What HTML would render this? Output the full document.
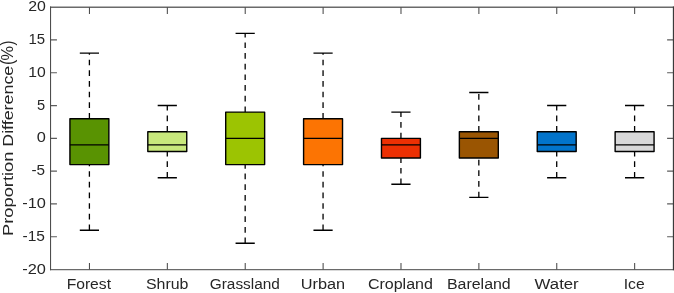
<!DOCTYPE html>
<html lang="en"><head><meta charset="utf-8"><title>Proportion Difference boxplot</title>
<style>html,body{margin:0;padding:0;background:#fff}body{width:674px;height:293px;overflow:hidden}svg{display:block}</style>
</head><body>
<svg width="674" height="293" viewBox="0 0 674 293" font-family="'Liberation Sans', sans-serif" fill="#262626">
<rect width="674" height="293" fill="#fff"/>
<g fill="none">
<path d="M50.02 7.24H674.02M50.02 269.68H674.02" stroke="#6a6a6a" stroke-width="1.35"/>
<path d="M50.55 236.76h6.4M673.5 236.76h-6.4M50.55 203.96h6.4M673.5 203.96h-6.4M50.55 171.16h6.4M673.5 171.16h-6.4M50.55 138.36h6.4M673.5 138.36h-6.4M50.55 105.56h6.4M673.5 105.56h-6.4M50.55 72.76h6.4M673.5 72.76h-6.4M50.55 39.96h6.4M673.5 39.96h-6.4" stroke="#5c5c5c" stroke-width="1.2"/>
<path d="M50.55 6.6V270.3" stroke="#4a4a4a" stroke-width="1.05"/>
<path d="M673.5 6.6V270.3" stroke="#3a3a3a" stroke-width="1.3"/>
<path d="M89.45 269.6V263M89.45 7.3V13.9M167.34 269.6V263M167.34 7.3V13.9M245.22 269.6V263M245.22 7.3V13.9M323.11 269.6V263M323.11 7.3V13.9M400.99 269.6V263M400.99 7.3V13.9M478.88 269.6V263M478.88 7.3V13.9M556.76 269.6V263M556.76 7.3V13.9M634.65 269.6V263M634.65 7.3V13.9" stroke="#4a4a4a" stroke-width="1.05"/>
</g>
<g stroke="#000" fill="none">
<path d="M89.40 230.20V164.60M89.40 118.68V53.08" stroke-width="1.3" stroke-dasharray="5.7 4.97"/>
<path d="M79.80 230.20h19.2M79.80 53.08h19.2" stroke-width="1.4"/>
<rect x="69.93" y="118.68" width="38.94" height="45.92" fill="#599302" stroke-width="1.4" stroke-linejoin="round"/>
<path d="M69.93 144.92h38.94" stroke-width="1.3"/>
</g>
<g stroke="#000" fill="none">
<path d="M167.29 177.72V151.48M167.29 131.80V105.56" stroke-width="1.3" stroke-dasharray="5.7 4.97"/>
<path d="M157.69 177.72h19.2M157.69 105.56h19.2" stroke-width="1.4"/>
<rect x="147.81" y="131.80" width="38.94" height="19.68" fill="#c8e87c" stroke-width="1.4" stroke-linejoin="round"/>
<path d="M147.81 144.92h38.94" stroke-width="1.3"/>
</g>
<g stroke="#000" fill="none">
<path d="M245.17 243.32V164.60M245.17 112.12V33.40" stroke-width="1.3" stroke-dasharray="5.7 4.97"/>
<path d="M235.57 243.32h19.2M235.57 33.40h19.2" stroke-width="1.4"/>
<rect x="225.70" y="112.12" width="38.94" height="52.48" fill="#9cc402" stroke-width="1.4" stroke-linejoin="round"/>
<path d="M225.70 138.36h38.94" stroke-width="1.3"/>
</g>
<g stroke="#000" fill="none">
<path d="M323.06 230.20V164.60M323.06 118.68V53.08" stroke-width="1.3" stroke-dasharray="5.7 4.97"/>
<path d="M313.46 230.20h19.2M313.46 53.08h19.2" stroke-width="1.4"/>
<rect x="303.59" y="118.68" width="38.94" height="45.92" fill="#fc7403" stroke-width="1.4" stroke-linejoin="round"/>
<path d="M303.59 138.36h38.94" stroke-width="1.3"/>
</g>
<g stroke="#000" fill="none">
<path d="M400.94 184.28V158.04M400.94 138.36V112.12" stroke-width="1.3" stroke-dasharray="5.7 4.97"/>
<path d="M391.34 184.28h19.2M391.34 112.12h19.2" stroke-width="1.4"/>
<rect x="381.47" y="138.36" width="38.94" height="19.68" fill="#ec3003" stroke-width="1.4" stroke-linejoin="round"/>
<path d="M381.47 144.92h38.94" stroke-width="1.3"/>
</g>
<g stroke="#000" fill="none">
<path d="M478.83 197.40V158.04M478.83 131.80V92.44" stroke-width="1.3" stroke-dasharray="5.7 4.97"/>
<path d="M469.23 197.40h19.2M469.23 92.44h19.2" stroke-width="1.4"/>
<rect x="459.36" y="131.80" width="38.94" height="26.24" fill="#9a5502" stroke-width="1.4" stroke-linejoin="round"/>
<path d="M459.36 138.36h38.94" stroke-width="1.3"/>
</g>
<g stroke="#000" fill="none">
<path d="M556.71 177.72V151.48M556.71 131.80V105.56" stroke-width="1.3" stroke-dasharray="5.7 4.97"/>
<path d="M547.11 177.72h19.2M547.11 105.56h19.2" stroke-width="1.4"/>
<rect x="537.24" y="131.80" width="38.94" height="19.68" fill="#0274cb" stroke-width="1.4" stroke-linejoin="round"/>
<path d="M537.24 144.92h38.94" stroke-width="1.3"/>
</g>
<g stroke="#000" fill="none">
<path d="M634.60 177.72V151.48M634.60 131.80V105.56" stroke-width="1.3" stroke-dasharray="5.7 4.97"/>
<path d="M625.00 177.72h19.2M625.00 105.56h19.2" stroke-width="1.4"/>
<rect x="615.13" y="131.80" width="38.94" height="19.68" fill="#d8d8d9" stroke-width="1.4" stroke-linejoin="round"/>
<path d="M615.13 144.92h38.94" stroke-width="1.3"/>
</g>
<g font-size="14">
<text x="66.66" y="289.2" textLength="44.34" lengthAdjust="spacingAndGlyphs">Forest</text>
<text x="145.94" y="289.2" textLength="42.51" lengthAdjust="spacingAndGlyphs">Shrub</text>
<text x="209.77" y="289.2" textLength="70.10" lengthAdjust="spacingAndGlyphs">Grassland</text>
<text x="300.80" y="289.2" textLength="44.38" lengthAdjust="spacingAndGlyphs">Urban</text>
<text x="367.90" y="289.2" textLength="65.02" lengthAdjust="spacingAndGlyphs">Cropland</text>
<text x="446.91" y="289.2" textLength="63.84" lengthAdjust="spacingAndGlyphs">Bareland</text>
<text x="534.62" y="289.2" textLength="44.11" lengthAdjust="spacingAndGlyphs">Water</text>
<text x="623.67" y="289.2" textLength="20.98" lengthAdjust="spacingAndGlyphs">Ice</text>
<text x="22.20" y="273.66" font-size="14.4" textLength="23.65" lengthAdjust="spacingAndGlyphs">-20</text>
<text x="22.56" y="240.86" font-size="14.4" textLength="22.43" lengthAdjust="spacingAndGlyphs">-15</text>
<text x="22.20" y="208.06" font-size="14.4" textLength="23.65" lengthAdjust="spacingAndGlyphs">-10</text>
<text x="31.42" y="175.26" font-size="14.4" textLength="13.60" lengthAdjust="spacingAndGlyphs">-5</text>
<text x="36.82" y="142.46" font-size="14.4" textLength="9.10" lengthAdjust="spacingAndGlyphs">0</text>
<text x="36.91" y="109.66" font-size="14.4" textLength="8.14" lengthAdjust="spacingAndGlyphs">5</text>
<text x="28.39" y="76.86" font-size="14.4" textLength="17.49" lengthAdjust="spacingAndGlyphs">10</text>
<text x="28.41" y="44.06" font-size="14.4" textLength="16.63" lengthAdjust="spacingAndGlyphs">15</text>
<text x="28.18" y="11.26" font-size="14.4" textLength="17.69" lengthAdjust="spacingAndGlyphs">20</text>
</g>
<text transform="translate(12.6 0) rotate(-90)" font-size="15.4"><tspan x="-235.96" textLength="84.30" lengthAdjust="spacingAndGlyphs">Proportion</tspan> <tspan x="-146.74" textLength="80.97" lengthAdjust="spacingAndGlyphs">Difference</tspan><tspan x="-65.00" font-size="18.5" textLength="5.33" lengthAdjust="spacingAndGlyphs">(</tspan><tspan x="-60.45" font-size="16.5" textLength="14.50" lengthAdjust="spacingAndGlyphs">%</tspan><tspan x="-45.43" font-size="18.5" textLength="4.93" lengthAdjust="spacingAndGlyphs">)</tspan></text>
</svg>
</body></html>
